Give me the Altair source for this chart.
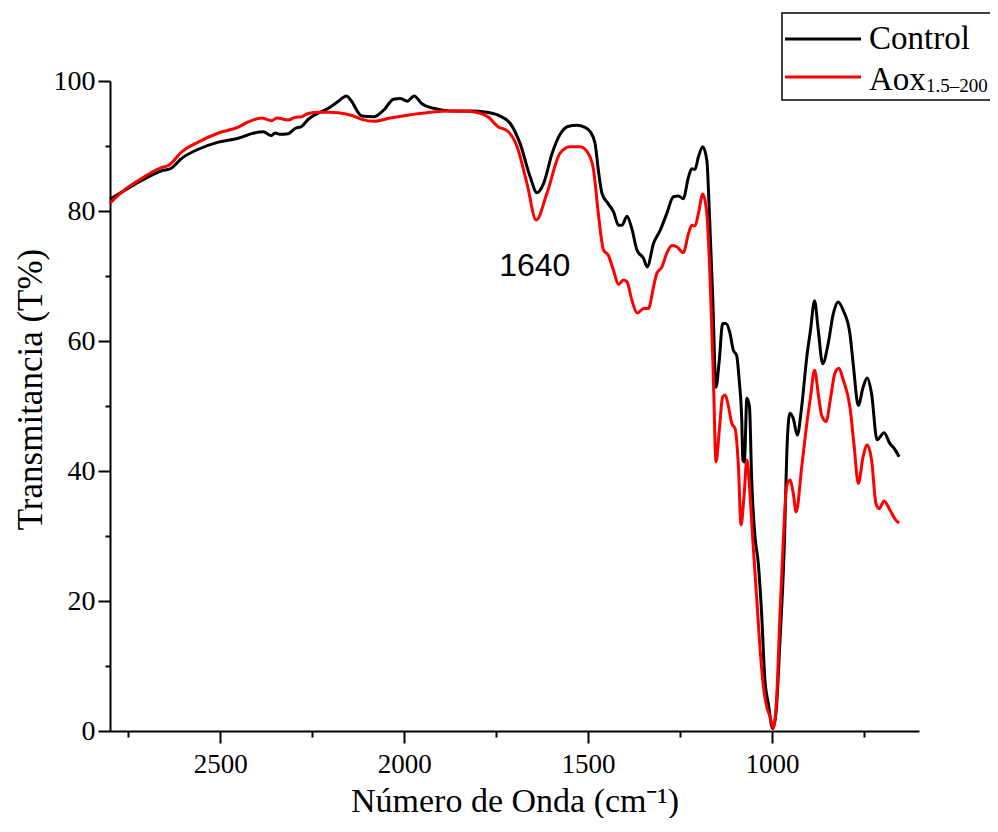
import altair as alt
import pandas as pd

# ---- data ----
control_wn = [2800, 2768, 2714, 2659, 2636, 2605, 2560, 2505, 2451, 2415, 2383, 2362, 2351, 2338,
              2315, 2297, 2279, 2261, 2233, 2206, 2179, 2157, 2146, 2115, 2083, 2056, 2029, 2011,
              1991, 1973, 1952, 1920, 1875, 1820, 1775, 1739, 1712, 1685, 1657, 1639, 1621, 1598,
              1576, 1555, 1530, 1510, 1494, 1481, 1472, 1462, 1445, 1431, 1417, 1408, 1394, 1381, 1367,
              1349, 1339, 1322, 1304, 1286, 1268, 1254, 1241, 1227, 1218, 1209, 1200, 1188, 1177,
              1170, 1161, 1152, 1143, 1134, 1125, 1114, 1105, 1096, 1089, 1082, 1079, 1075, 1068,
              1061, 1055, 1046, 1037, 1028, 1019, 1010, 998, 989, 978, 967, 958, 951, 942, 931,
              919, 905, 895, 884, 874, 862, 847, 833, 820, 806, 788, 779, 765, 752, 741, 729, 714,
              695, 679, 668, 654]
control_t = [81.8, 82.9, 84.7, 86.2, 86.5, 88.1, 89.5, 90.6, 91.2, 91.9, 92.2, 91.6, 92.0, 91.8,
             91.9, 92.7, 93.0, 94.1, 95.1, 95.8, 96.9, 97.7, 97.1, 94.6, 94.5, 95.5, 97.2, 97.3,
             96.9, 97.7, 96.5, 95.8, 95.4, 95.4, 95.2, 94.6, 93.5, 90.4, 85.2, 82.8, 84.2, 88.8,
             91.8, 93.0, 93.2, 92.9, 92.2, 90.4, 86.3, 82.7, 81.1, 79.9, 77.8, 77.8, 79.2, 77.3, 74.0,
             72.7, 71.4, 75.0, 77.0, 79.6, 82.2, 82.3, 81.9, 85.2, 86.5, 86.4, 88.3, 89.9, 87.8,
             79.7, 66.8, 52.9, 57.1, 62.7, 62.7, 61.2, 58.6, 57.8, 54.0, 47.8, 41.7, 41.4, 51.2,
             49.9, 38.6, 29.9, 25.8, 18.1, 7.8, 4.3, 0.4, 2.7, 14.0, 27.3, 44.8, 48.9, 48.1, 45.5,
             49.9, 57.6, 61.7, 66.2, 61.7, 56.5, 59.6, 64.2, 66.0, 64.7, 61.2, 56.5, 50.1, 52.9,
             54.3, 51.9, 44.8, 45.9, 44.2, 43.5, 42.2]

aox_wn = [2800, 2768, 2714, 2659, 2641, 2605, 2560, 2505, 2451, 2424, 2388, 2360, 2347, 2315,
          2297, 2279, 2261, 2233, 2206, 2179, 2142, 2115, 2083, 2038, 1983, 1929, 1875, 1820,
          1775, 1743, 1721, 1693, 1666, 1641, 1612, 1576, 1549, 1521, 1499, 1485, 1472, 1458,
          1445, 1431, 1417, 1404, 1394, 1381, 1366, 1349, 1336, 1322, 1313, 1299, 1286, 1272,
          1259, 1241, 1227, 1218, 1209, 1200, 1188, 1177, 1168, 1159, 1152, 1143, 1134, 1127,
          1118, 1109, 1100, 1091, 1084, 1076, 1068, 1061, 1052, 1041, 1032, 1023, 1014, 1005,
          996, 987, 978, 969, 960, 951, 942, 934, 919, 905, 895, 884, 874, 865, 853, 840, 829,
          818, 806, 788, 777, 765, 752, 741, 729, 717, 708, 695, 679, 665, 654]
aox_t = [81.2, 82.9, 85.0, 86.7, 87.0, 89.1, 90.6, 92.0, 92.9, 93.7, 94.3, 93.9, 94.3, 94.0,
         94.4, 94.5, 95.0, 95.2, 95.2, 95.1, 94.7, 94.1, 93.8, 94.3, 94.8, 95.2, 95.4, 95.3,
         94.6, 92.9, 92.4, 89.9, 84.2, 78.6, 82.7, 88.9, 89.9, 89.9, 88.8, 86.3, 79.6, 74.0,
         73.2, 70.9, 68.7, 69.4, 69.1, 66.3, 64.3, 65.0, 65.0, 68.3, 70.4, 71.4, 73.5, 74.7,
         74.5, 73.6, 76.5, 77.8, 77.7, 79.6, 82.6, 79.6, 69.4, 54.0, 41.4, 46.3, 51.4, 51.7,
         49.9, 47.3, 46.5, 40.6, 31.7, 36.0, 41.7, 37.6, 29.4, 20.1, 12.5, 6.8, 3.7, 2.2,
         0.4, 5.3, 18.1, 29.4, 37.6, 38.6, 36.6, 33.7, 40.6, 47.3, 51.4, 55.5, 51.9, 48.6, 47.6,
         51.4, 55.0, 55.8, 54.0, 49.9, 44.2, 38.1, 42.2, 44.0, 41.7, 35.0, 34.2, 35.4, 34.0,
         32.6, 32.0]

x_ticks = [2750, 2500, 2250, 2000, 1750, 1500, 1250, 1000, 750]
y_ticks = [0, 10, 20, 30, 40, 50, 60, 70, 80, 90, 100]
annot_wn = [1645]
annot_t = [70]
annot_txt = ["1640"]

SERIF = "Liberation Serif"

df_c = pd.DataFrame({"wn": control_wn, "t": control_t})
df_a = pd.DataFrame({"wn": aox_wn, "t": aox_t})
df_ann = pd.DataFrame({"wn": annot_wn, "t": annot_t, "txt": annot_txt})

x_enc = alt.X(
    "wn:Q",
    scale=alt.Scale(domain=[2800, 600], nice=False, zero=False),
    axis=alt.Axis(
        values=x_ticks,
        labelExpr="datum.value % 500 === 0 ? datum.label : ''",
        format="d",
        tickSize={"condition": {"test": "datum.value % 500 !== 0", "value": 6}, "value": 12},
        labelPadding=8,
        labelFont=SERIF,
        labelFontSize=27,
        title="Número de Onda (cm⁻¹)",
        titleY=80,
        titleBaseline="alphabetic",
        grid=False,
    ),
)
y_enc = alt.Y(
    "t:Q",
    scale=alt.Scale(domain=[0, 100], nice=False, zero=False),
    axis=alt.Axis(
        values=y_ticks,
        labelExpr="datum.value % 20 === 0 ? datum.label : ''",
        tickSize={"condition": {"test": "datum.value % 20 !== 0", "value": 5}, "value": 12},
        labelPadding=3,
        labelFont=SERIF,
        labelFontSize=28,
        title="Transmitancia (T%)",
        titleX=-80,
        titleY=308,
        titleAngle=270,
        titleAlign="center",
        titleBaseline="middle",
        titleFontSize=35,
        grid=False,
    ),
)

line_c = alt.Chart(df_c).mark_line(color="#000000", strokeWidth=3, interpolate="monotone").encode(
    x=x_enc, y=y_enc)
line_a = alt.Chart(df_a).mark_line(color="#ff0000", strokeWidth=3, interpolate="monotone").encode(
    x=alt.X("wn:Q"), y=alt.Y("t:Q"))

ann = alt.Chart(df_ann).mark_text(
    font="Liberation Sans", fontSize=32, align="center", baseline="alphabetic",
    color="#000000").encode(x="wn:Q", y="t:Q", text="txt:N")

one = alt.Data(values=[{}])
leg_box = alt.Chart(one).mark_rect(fill="white", stroke="black", strokeWidth=1.5).encode(
    x=alt.value(672), x2=alt.value(940), y=alt.value(-68), y2=alt.value(19))
leg_l1 = alt.Chart(one).mark_rule(color="black", strokeWidth=3).encode(
    x=alt.value(675), x2=alt.value(751), y=alt.value(-42))
leg_l2 = alt.Chart(one).mark_rule(color="#ff0000", strokeWidth=3).encode(
    x=alt.value(675), x2=alt.value(751), y=alt.value(-4))
leg_t1 = alt.Chart(one).mark_text(font=SERIF, fontSize=33, align="left", baseline="alphabetic",
                                  color="black", text="Control").encode(
    x=alt.value(759), y=alt.value(-32))
leg_t2 = alt.Chart(one).mark_text(font=SERIF, fontSize=33, align="left", baseline="alphabetic",
                                  color="black", text="Aox").encode(
    x=alt.value(759), y=alt.value(9))
leg_t3 = alt.Chart(one).mark_text(font=SERIF, fontSize=19, align="left", baseline="alphabetic",
                                  color="black", text="1.5–200").encode(
    x=alt.value(816), y=alt.value(11))

chart = alt.layer(line_c, line_a, ann, leg_box, leg_l1, leg_l2, leg_t1, leg_t2, leg_t3).properties(
    width=809, height=650,
    autosize="none",
    padding={"left": 102, "top": 73, "right": 71, "bottom": 87},
).configure_view(stroke=None).configure_axis(
    domainColor="black", domainWidth=2, tickColor="black", tickWidth=2,
    labelColor="black",
    titleFont=SERIF, titleFontSize=34, titleColor="black", titleFontWeight="normal",
    labelOverlap=False,
).configure_axisX(orient="bottom").configure_axisY(orient="left")

chart.save("out.html", embed_options={"renderer": "svg", "actions": False})
